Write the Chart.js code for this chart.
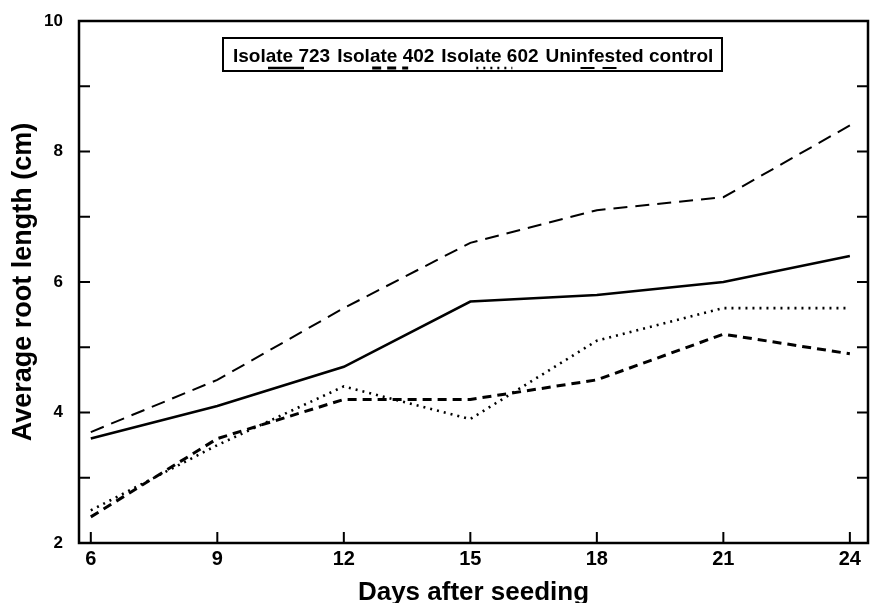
<!DOCTYPE html>
<html>
<head>
<meta charset="utf-8">
<script src="https://cdn.jsdelivr.net/npm/chart.js@4"></script>
<style>
  html, body { margin: 0; padding: 0; background: #fff; }
  #wrap { width: 877px; height: 603px; }
</style>
</head>
<body>
<div id="wrap"><canvas id="roots" width="877" height="603"></canvas></div>
<script>
// days after seeding
const days = [6, 9, 12, 15, 18, 21, 24];
// average root length (cm) per treatment
const isolate723 = [3.6, 4.1, 4.7, 5.7, 5.8, 6.0, 6.4];
const isolate402 = [2.4, 3.6, 4.2, 4.2, 4.5, 5.2, 4.9];
const isolate602 = [2.5, 3.5, 4.4, 3.9, 5.1, 5.6, 5.6];
const control = [3.7, 4.5, 5.6, 6.6, 7.1, 7.3, 8.4];

const xTicks = [6, 9, 12, 15, 18, 21, 24];
const yTicks = [2, 4, 6, 8, 10];
const yMinor = [3, 5, 7, 9];

const toPoints = (vals) => days.map((d, i) => ({ x: d, y: vals[i] }));

const series = [
  { label: "Isolate 723", data: isolate723, dash: [], width: 2.6 },
  { label: "Isolate 402", data: isolate402, dash: [9, 6], width: 3 },
  { label: "Isolate 602", data: isolate602, dash: [2, 5], width: 2.6 },
  { label: "Uninfested control", data: control, dash: [14, 8], width: 2 },
];

// frame, inward ticks and the boxed legend with samples under the text
const framePlugin = {
  id: "frame",
  afterDraw(chart) {
    const { ctx, chartArea: a, scales } = chart;
    const x = scales.x, y = scales.y;
    ctx.save();
    ctx.strokeStyle = "#000";
    ctx.lineWidth = 2.5;
    ctx.strokeRect(a.left, a.top, a.right - a.left, a.bottom - a.top);

    ctx.lineWidth = 2;
    ctx.beginPath();
    yTicks.concat(yMinor).forEach((v) => {
      const py = y.getPixelForValue(v);
      ctx.moveTo(a.left, py);
      ctx.lineTo(a.left + 11, py);
      ctx.moveTo(a.right, py);
      ctx.lineTo(a.right - 11, py);
    });
    xTicks.forEach((v) => {
      const px = x.getPixelForValue(v);
      ctx.moveTo(px, a.bottom);
      ctx.lineTo(px, a.bottom - 11);
    });
    ctx.stroke();

    // legend box
    ctx.lineWidth = 2;
    ctx.strokeRect(223, 38, 499, 33);
    ctx.font = "bold 19px 'Liberation Sans', Arial, sans-serif";
    ctx.fillStyle = "#000";
    ctx.textBaseline = "alphabetic";
    let lx = 233;
    series.forEach((s) => {
      ctx.fillText(s.label, lx, 62);
      ctx.beginPath();
      ctx.setLineDash(s.dash);
      ctx.lineWidth = s.width;
      ctx.moveTo(lx + 35, 68);
      ctx.lineTo(lx + 71, 68);
      ctx.stroke();
      ctx.setLineDash([]);
      lx += ctx.measureText(s.label).width + 7;
    });
    ctx.restore();
  },
};

new Chart(document.getElementById("roots"), {
  type: "line",
  data: {
    datasets: series.map((s) => ({
      label: s.label,
      data: toPoints(s.data),
      borderColor: "#000",
      backgroundColor: "#000",
      borderWidth: s.width,
      borderDash: s.dash,
      pointRadius: 0,
      tension: 0,
    })),
  },
  options: {
    responsive: false,
    animation: false,
    layout: { autoPadding: false, padding: { top: 21, right: 9, left: 0, bottom: 0 } },
    plugins: { legend: { display: false }, tooltip: { enabled: false } },
    scales: {
      x: {
        type: "linear",
        min: 5.72,
        max: 24.43,
        afterBuildTicks: (s) => { s.ticks = xTicks.map((v) => ({ value: v })); },
        afterFit: (s) => { s.height = 60; },
        grid: { display: false, tickLength: 0 },
        border: { display: false },
        ticks: {
          color: "#000",
          padding: 4,
          maxRotation: 0,
          font: { family: "'Liberation Sans Narrow', sans-serif", weight: "bold", size: 20 },
        },
        title: {
          display: true,
          text: "Days after seeding",
          color: "#000",
          padding: { top: 0, bottom: -5 },
          font: { family: "'Liberation Sans', Arial, sans-serif", weight: "bold", size: 26 },
        },
      },
      y: {
        min: 2,
        max: 10,
        afterBuildTicks: (s) => { s.ticks = yTicks.map((v) => ({ value: v })); },
        afterFit: (s) => { s.width = 79; s.paddingTop = 0; s.paddingBottom = 0; },
        grid: { display: false, tickLength: 0 },
        border: { display: false },
        ticks: {
          color: "#000",
          padding: 16,
          font: { family: "'Liberation Sans', Arial, sans-serif", weight: "bold", size: 17 },
        },
        title: {
          display: true,
          text: "Average root length (cm)",
          color: "#000",
          padding: { top: 7, bottom: 0 },
          font: { family: "'Liberation Sans', Arial, sans-serif", weight: "bold", size: 27 },
        },
      },
    },
  },
  plugins: [framePlugin],
});
</script>
</body>
</html>
